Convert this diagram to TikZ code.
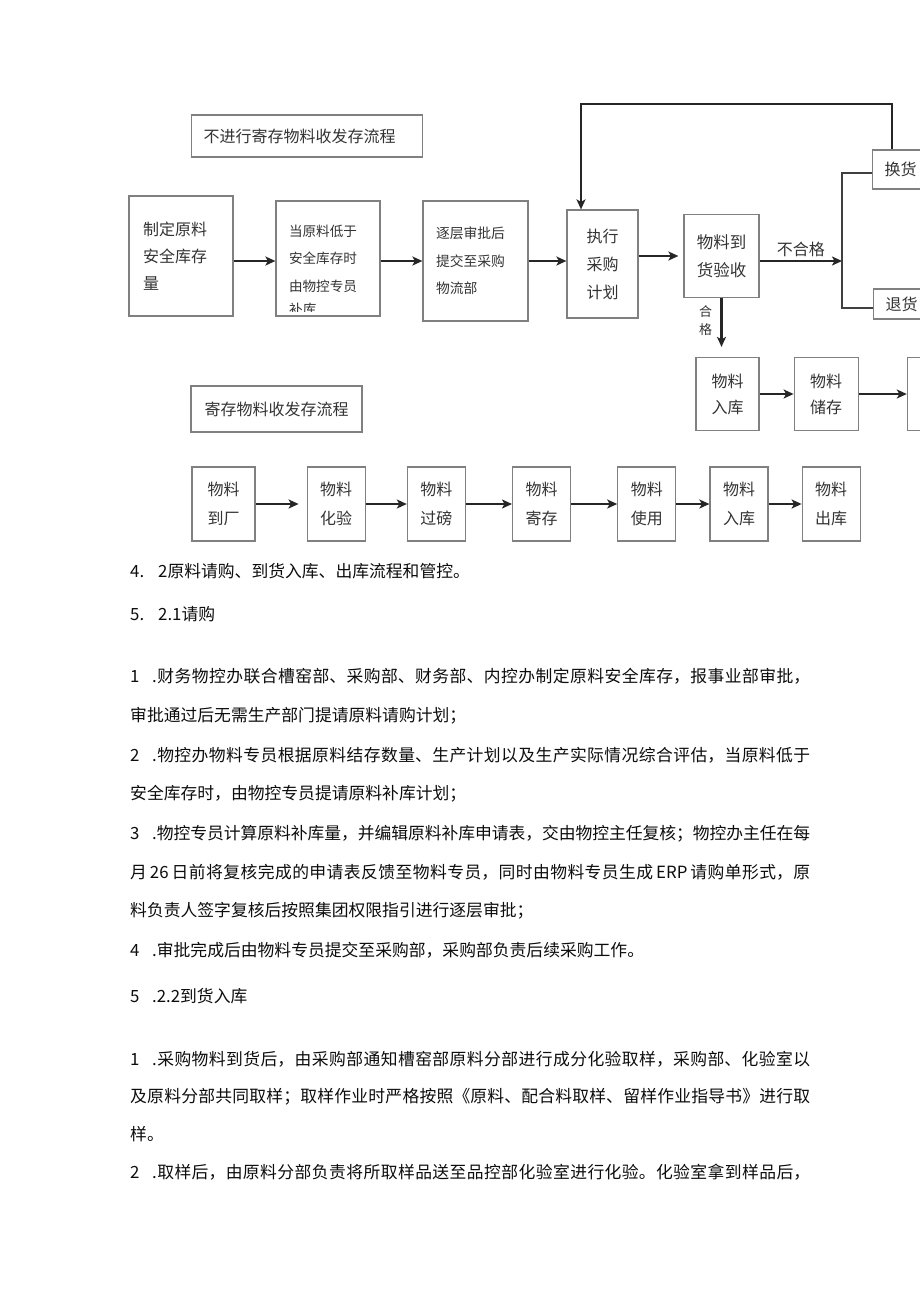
\documentclass[tikz,border=0pt]{standalone}
\usepackage{fontspec}
\setmainfont{Noto Sans CJK SC}
\usetikzlibrary{
    arrows.meta,
    positioning
}
\XeTeXlinebreaklocale "zh"
\XeTeXlinebreakskip=0pt plus 3pt minus 0.5pt
\XeTeXlinebreakpenalty=10000
\definecolor{boxgray}{HTML}{808080}
\definecolor{ink}{HTML}{333333}
\definecolor{bodyink}{HTML}{0D0D0D}
\newcommand{\itemno}[1]{\makebox[22pt][l]{#1}.}
\newcommand{\fullline}[1]{\parbox{680pt}{\parfillskip=0pt\relax #1}}

\begin{document}
\begin{tikzpicture}[
    x=1pt,
    y=-1pt,
    >={Stealth[length=10pt,width=9pt,inset=2.5pt]},
    every node/.style={text=ink},
    title/.style={
        draw=boxgray,
        line width=1.2pt,
        rectangle,
        inner ysep=0pt,
        font=\fontsize{16}{20}\selectfont
    },
    block/.style={
        draw=boxgray,
        line width=1.2pt,
        rectangle,
        inner sep=0pt,
        align=center,
        font=\fontsize{16}{28}\selectfont
    },
    cell/.style={
        block,
        minimum width=58pt,
        minimum height=74pt,
        font=\fontsize{16}{29}\selectfont
    },
    flow/.style={->, line width=2.2pt, draw=black!85},
    para/.style={
        anchor=west,
        inner sep=0pt,
        text=bodyink,
        font=\fontsize{16.8}{20}\selectfont
    }
]
\useasboundingbox[fill=white] (0,0) rectangle (920,1301);
\clip (0,0) rectangle (920,1301);

%--------------------------------------------------
\node[title, anchor=west, text width=207pt, inner xsep=12pt,
      minimum height=42pt, align=left] (title_plain) at (191,136)
{
不进行寄存物料收发存流程
};

\node[block, text width=76pt, inner xsep=14pt, minimum height=120pt,
      align=left, font=\fontsize{16}{27}\selectfont] (safety) at (181,256)
{
制定原料\\安全库存\\量
};

\node[block, text width=78pt, inner xsep=13pt, minimum height=115pt,
      align=left, font=\fontsize{13.6}{27.5}\selectfont] (low) at (328,258.5)
{
当原料低于\\安全库存时\\由物控专员
};

% last line runs out of the box
\begin{scope}
\clip ([yshift=5.5pt]low.south west) rectangle (low.north east);
\node[anchor=west, inner sep=0pt, font=\fontsize{13.6}{16}\selectfont]
    (low_cut) at (289,309) {补库};
\end{scope}

\node[block, text width=79pt, inner xsep=13pt, minimum height=120pt,
      align=left, font=\fontsize{13.8}{27.5}\selectfont] (approve) at (475.5,261)
{
逐层审批后\\提交至采购\\物流部
};

\node[block, minimum width=71pt, minimum height=108pt] (purchase) at (602.5,264)
{
执行\\采购\\计划
};

\node[block, minimum width=75pt, minimum height=83pt,
      font=\fontsize{16.5}{28}\selectfont] (check) at (721.5,256)
{
物料到\\货验收
};

\node[block, anchor=west, minimum height=39pt, text width=64pt,
      inner xsep=12pt, align=left] (swap) at (872,169.5)
{
换货
};

\node[block, anchor=west, minimum height=30pt, text width=64pt,
      inner xsep=12pt, align=left] (refund) at (873,304)
{
退货
};

\coordinate (split) at (842,261);
\coordinate (split_top) at (842,173);
\coordinate (split_bot) at (842,308);
\coordinate (loop_r) at (892,104);
\coordinate (loop_l) at (581,104);

\node[block, minimum width=63pt, minimum height=73pt,
      font=\fontsize{16}{26}\selectfont] (store_in) at (727.5,394)
{
物料\\入库
};

\node[block, right=34pt of store_in, minimum width=64pt, minimum height=73pt,
      font=\fontsize{16}{26}\selectfont] (storage)
{
物料\\储存
};

\node[block, right=48pt of storage, minimum width=63pt, minimum height=73pt]
    (store_next) {};

%--------------------------------------------------
\node[title, minimum width=171pt, minimum height=46pt] (title_consign) at (276.5,409)
{
寄存物料收发存流程
};

\node[cell, minimum width=63pt] (arrive) at (223.5,504) {物料\\到厂};
\node[cell, right=51pt of arrive] (lab) {物料\\化验};
\node[cell, right=41pt of lab] (weigh) {物料\\过磅};
\node[cell, right=46pt of weigh] (consign) {物料\\寄存};
\node[cell, right=46pt of consign] (use) {物料\\使用};
\node[cell, right=33pt of use] (stock_in) {物料\\入库};
\node[cell, right=33pt of stock_in] (stock_out) {物料\\出库};

%--------------------------------------------------
\draw[flow] (safety.east |- approve.west) -- (low.west |- approve.west);
\draw[flow] (low.east |- approve.west) -- (approve.west);
\draw[flow] (approve.east) -- (purchase.west |- approve.east);
\draw[flow, shorten >=5pt] (purchase.east |- check.west) -- (check.west);
\draw[flow] (check.east |- split) --
    node[above, font=\fontsize{16}{20}\selectfont] (fail_lbl) {不合格} (split);
\draw[line width=1.5pt, draw=black!75]
    (swap.west |- split_top) -- (split_top) -- (split_bot) -- (refund.west |- split_bot);
\draw[flow] (swap.north -| loop_r) -- (loop_r) -- (loop_l) -- (loop_l |- purchase.north);
\draw[flow, shorten >=10pt] (check.south) --
    node[left=5pt, pos=0.38, align=center, font=\fontsize{13}{18}\selectfont]
    (pass_lbl) {合\\格} (check.south |- store_in.north);
\draw[flow] (store_in) -- (storage);
\draw[flow] (storage) -- (store_next);

\draw[flow, shorten >=8pt] (arrive) -- (lab);
\draw[flow] (lab) -- (weigh);
\draw[flow] (weigh) -- (consign);
\draw[flow] (consign) -- (use);
\draw[flow] (use) -- (stock_in);
\draw[flow] (stock_in) -- (stock_out);

%--------------------------------------------------
\node[para] (sec_a) at (130,571) {4.\hspace{14pt}2原料请购、到货入库、出库流程和管控。};
\node[para] (sec_b) at (130,614) {5.\hspace{14pt}2.1请购};
\node[para] (req_1a) at (130,676)
    {\fullline{\itemno{1}财务物控办联合槽窑部、采购部、财务部、内控办制定原料安全库存，报事业部审批，}};
\node[para] (req_1b) at (130,716) {审批通过后无需生产部门提请原料请购计划；};
\node[para] (req_2a) at (130,755)
    {\fullline{\itemno{2}物控办物料专员根据原料结存数量、生产计划以及生产实际情况综合评估，当原料低于}};
\node[para] (req_2b) at (130,794) {安全库存时，由物控专员提请原料补库计划；};
\node[para] (req_3a) at (130,834)
    {\fullline{\itemno{3}物控专员计算原料补库量，并编辑原料补库申请表，交由物控主任复核；物控办主任在每}};
\node[para] (req_3b) at (130,872)
    {\fullline{月\kern3pt 26\kern3pt 日前将复核完成的申请表反馈至物料专员，同时由物料专员生成\kern3pt ERP\kern3pt 请购单形式，原}};
\node[para] (req_3c) at (130,911) {料负责人签字复核后按照集团权限指引进行逐层审批；};
\node[para] (req_4) at (130,950) {\itemno{4}审批完成后由物料专员提交至采购部，采购部负责后续采购工作。};
\node[para] (sec_c) at (130,996) {\itemno{5}2.2到货入库};
\node[para] (rcv_1a) at (130,1059)
    {\fullline{\itemno{1}采购物料到货后，由采购部通知槽窑部原料分部进行成分化验取样，采购部、化验室以}};
\node[para] (rcv_1b) at (130,1097)
    {\fullline{及原料分部共同取样；取样作业时严格按照《原料、配合料取样、留样作业指导书》进行取}};
\node[para] (rcv_1c) at (130,1134) {样。};
\node[para] (rcv_2a) at (130,1172)
    {\fullline{\itemno{2}取样后，由原料分部负责将所取样品送至品控部化验室进行化验。化验室拿到样品后，}};

\end{tikzpicture}
\end{document}
